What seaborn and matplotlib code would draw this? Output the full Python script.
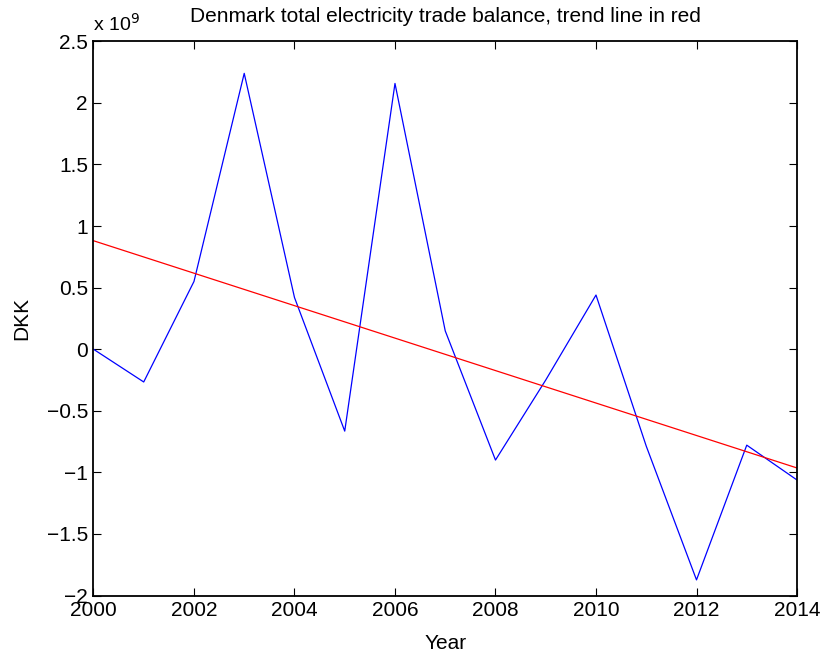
import numpy as np
import pandas as pd
import matplotlib
matplotlib.use("Agg")
import matplotlib.pyplot as plt
from matplotlib.ticker import FuncFormatter
import seaborn as sns

# yearly trade balance, in units of 1e9 DKK
years = np.arange(2000, 2015)
balance = [0.0, -0.266, 0.55, 2.24, 0.42, -0.665, 2.158, 0.149,
           -0.90, -0.25, 0.44, -0.787, -1.873, -0.779, -1.062]

df = pd.DataFrame({"Year": years, "DKK": balance})

# linear trend
coef = np.polyfit(df["Year"], df["DKK"], 1)
df["trend"] = np.polyval(coef, df["Year"])

sns.set_style("ticks", {"text.color": "black", "axes.labelcolor": "black",
                        "xtick.color": "black", "ytick.color": "black"})
plt.rcParams["font.family"] = ["Liberation Sans", "DejaVu Sans"]

fig = plt.figure(figsize=(8.22, 6.55), dpi=100)
ax = fig.add_axes([0.1137, 0.0908, 0.8559, 0.8461])

sns.lineplot(data=df, x="Year", y="DKK", color="#0000ff", linewidth=0.9, ax=ax)
sns.lineplot(data=df, x="Year", y="trend", color="#ff0000", linewidth=0.9, ax=ax)

ax.set_xlim(2000, 2014)
ax.set_ylim(-2, 2.5)
ax.set_xticks(np.arange(2000, 2015, 2))
ax.set_yticks(np.arange(-2, 2.51, 0.5))
ax.yaxis.set_major_formatter(FuncFormatter(lambda v, p: f"{v:g}".replace("-", "\u2212")))

ax.tick_params(direction="in", length=6, width=0.8, top=True, right=True,
               labelsize=15, colors="black", pad=4)
for s in ax.spines.values():
    s.set_visible(True)
    s.set_linewidth(1.3)
    s.set_color("black")

ax.set_xlabel("Year", fontsize=15, labelpad=10, color="black")
ax.set_ylabel("DKK", fontsize=15, labelpad=11, color="black")
ax.set_title("Denmark total electricity trade balance, trend line in red",
             fontsize=15, pad=14, color="black")
ax.text(0.0, 1.012, "x 10$^{9}$", transform=ax.transAxes, fontsize=14,
        ha="left", va="bottom", color="black")

fig.savefig("out.png", dpi=100)
